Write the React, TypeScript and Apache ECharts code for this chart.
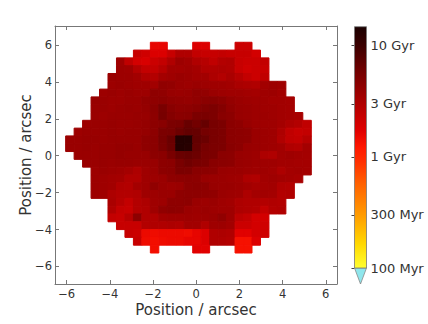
import React, { useEffect, useRef } from "react";
import * as echarts from "echarts";

// ---- axis ticks ----
const xTicks = [-6, -4, -2, 0, 2, 4, 6];
const yTicks = [-6, -4, -2, 0, 2, 4, 6];

// ---- colour bar (ages in Gyr) ----
const cbTickAges = [0.1, 0.3, 1, 3, 10];
const cbTickLabels = ["100 Myr", "300 Myr", "1 Gyr", "3 Gyr", "10 Gyr"];
const ageMin = 0.1;
const ageMax = 14.8;

// ---- spaxel grid (arcsec) ----
const cellX0 = -6.047; // left edge of column 0
const cellW = 0.3923;
const cellY0 = 6.148; // top edge of row 0
const cellH = 0.4229;

const N = null;
// first filled column of each row (row 0 = top)
const rowStart = [10, 8, 6, 6, 5, 5, 4, 3, 3, 3, 2, 1, 0, 0, 1, 2, 3, 3, 3, 3, 5, 5, 5, 6, 7, 8, 10];
// ages (Gyr) per row, from rowStart onwards
const rowAges: (number | null)[][] = [
  [1.6, 1.6, N, N, N, 1.8, 1.8, N, N, N, 2.2, 2.2],
  [2.3, 2.1, 1.8, 1.8, 2.3, 3.0, 3.0, 2.4, 2.3, 2.3, 2.4, 2.3, 2.3, 2.3, 2.0],
  [3.6, 2.5, 2.0, 1.9, 2.2, 2.4, 3.0, 3.7, 3.5, 3.0, 2.8, 2.5, 2.9, 3.0, 2.3, 2.2, 2.2, 2.4],
  [3.7, 3.6, 2.9, 2.4, 2.4, 2.8, 3.5, 3.5, 3.6, 3.4, 3.0, 3.0, 3.1, 3.0, 2.3, 2.1, 2.2, 2.3],
  [3.8, 3.7, 3.7, 3.5, 3.0, 2.9, 3.4, 3.6, 3.8, 3.7, 3.5, 3.5, 3.1, 2.9, 3.2, 2.8, 2.4, 2.2, 2.5],
  [3.7, 3.8, 3.7, 3.6, 3.6, 3.5, 4.2, 4.1, 3.8, 3.7, 3.8, 3.7, 3.6, 3.6, 3.5, 3.2, 3.1, 3.0, 3.5, 3.7, 3.6],
  [3.7, 3.8, 3.7, 3.8, 3.7, 3.7, 4.3, 4.2, 3.9, 3.8, 3.9, 4.2, 4.1, 3.8, 3.7, 3.6, 3.6, 3.5, 3.4, 3.6, 3.7, 3.5],
  [3.9, 3.8, 3.7, 3.7, 3.8, 3.8, 4.1, 4.3, 4.4, 4.2, 4.1, 4.0, 4.2, 4.5, 4.6, 4.4, 4.0, 3.8, 3.7, 3.6, 3.6, 3.5, 3.5, 3.4],
  [3.8, 3.8, 3.7, 3.8, 3.9, 3.8, 4.0, 4.5, 5.4, 4.6, 4.3, 4.4, 4.6, 5.0, 5.2, 4.8, 4.2, 3.9, 3.8, 3.7, 3.6, 3.6, 3.5, 3.4],
  [3.8, 3.7, 3.8, 3.8, 3.8, 3.9, 3.9, 4.4, 5.5, 4.8, 4.5, 4.6, 5.3, 5.4, 5.2, 4.6, 4.4, 3.9, 3.8, 3.7, 3.7, 3.6, 3.5, 3.4, 3.3],
  [3.7, 3.8, 3.8, 3.9, 3.8, 3.8, 3.9, 4.0, 4.4, 4.6, 5.3, 5.4, 6.5, 5.8, 6.6, 5.5, 5.3, 4.5, 4.3, 3.9, 3.7, 3.6, 3.6, 3.4, 3.1, 2.9, 2.5],
  [3.7, 3.8, 3.8, 3.8, 3.9, 3.8, 3.9, 3.9, 4.0, 4.4, 5.3, 5.4, 6.2, 6.8, 6.6, 5.7, 5.4, 5.2, 4.5, 4.4, 4.3, 3.8, 3.7, 3.6, 3.1, 2.5, 2.3, 2.4],
  [3.8, 3.8, 3.9, 3.9, 3.8, 3.9, 3.9, 3.9, 3.9, 4.3, 4.5, 5.4, 6.4, 13, 13, 6.8, 6.3, 5.4, 5.2, 4.5, 4.4, 4.3, 3.8, 3.7, 3.6, 3.0, 2.5, 2.4, 2.8],
  [3.8, 3.8, 3.9, 3.8, 3.9, 3.9, 4.0, 4.0, 3.9, 4.3, 4.5, 5.3, 6.2, 13, 12.5, 6.6, 5.6, 5.3, 5.2, 4.6, 4.4, 3.9, 3.8, 3.7, 3.6, 3.5, 3.0, 2.9, 3.4],
  [3.8, 3.8, 3.8, 3.9, 3.9, 4.0, 3.9, 3.9, 3.9, 4.4, 4.5, 5.4, 6.4, 6.6, 6.2, 5.4, 5.3, 4.5, 4.4, 3.9, 3.8, 3.7, 3.1, 3.0, 3.5, 3.6, 3.5, 3.4],
  [3.8, 3.8, 3.9, 3.8, 3.9, 3.9, 3.8, 3.8, 3.9, 4.4, 4.5, 5.4, 6.0, 5.5, 5.3, 4.6, 4.5, 4.4, 3.9, 3.8, 3.7, 3.6, 3.6, 3.5, 3.5, 3.4, 3.4],
  [3.7, 3.8, 3.7, 3.6, 3.4, 3.1, 3.6, 3.8, 4.4, 4.5, 5.3, 5.2, 4.6, 4.5, 4.4, 3.9, 3.8, 3.8, 3.7, 3.6, 3.6, 3.5, 3.1, 3.4, 3.5, 3.4],
  [3.7, 3.6, 3.5, 3.4, 3.0, 3.0, 3.6, 3.7, 3.8, 4.3, 4.4, 4.5, 4.4, 3.9, 3.8, 3.8, 3.7, 3.6, 3.1, 3.0, 3.5, 3.6, 3.5, 3.4, 3.3],
  [3.7, 3.6, 3.5, 3.0, 2.9, 3.4, 3.6, 4.2, 3.8, 3.7, 3.8, 4.4, 4.5, 4.4, 3.9, 3.8, 3.8, 3.7, 3.5, 3.3, 3.4, 3.5, 3.0, 2.9],
  [3.7, 3.6, 3.1, 2.9, 2.9, 3.0, 3.6, 3.7, 3.8, 3.8, 4.3, 4.4, 4.4, 4.3, 4.2, 3.8, 3.7, 3.6, 3.1, 3.4, 3.5, 3.4, 2.9, 3.0],
  [3.2, 2.8, 2.4, 2.9, 3.1, 3.6, 3.7, 4.3, 4.3, 4.4, 3.8, 3.7, 3.8, 3.6, 3.5, 3.1, 3.0, 3.0, 2.9, 3.0, 2.9],
  [3.0, 2.4, 2.3, 2.9, 3.0, 3.6, 4.2, 4.4, 4.3, 3.8, 3.7, 3.8, 3.7, 3.6, 3.6, 3.1, 3.0, 2.9, 2.4, 2.9, 3.0],
  [2.4, 2.3, 2.8, 4.4, 3.0, 3.0, 3.5, 3.6, 3.6, 3.7, 3.6, 3.7, 3.8, 4.2, 3.6, 2.6, 2.4, 2.0, 2.0],
  [2.3, 2.3, 2.3, 2.9, 3.0, 3.0, 3.1, 3.0, 3.5, 3.5, 3.0, 3.6, 3.7, 3.5, 2.2, 2.2, 2.0, 2.1],
  [2.3, 2.2, 1.5, 1.45, 1.5, 1.5, 1.5, 1.45, 1.6, 1.8, 3.0, 3.1, 3.0, 1.7, 1.7, 2.0, 2.1],
  [2.3, 1.45, 1.4, 1.45, 1.5, 1.5, 1.6, 1.6, 1.8, 3.0, 3.0, 2.9, 1.35, 1.35, 1.8],
  [1.4, N, N, N, N, 1.7, 1.7, N, N, N, 1.35, 1.35],
];

// colormap: fraction of log-age range -> colour
const cmapStops: [number, string][] = [
  [0.0, "#ffff30"],
  [0.1, "#ffd800"],
  [0.21, "#ffa000"],
  [0.35, "#ff6000"],
  [0.44, "#ff3000"],
  [0.5, "#ff1800"],
  [0.57, "#e00000"],
  [0.68, "#b00000"],
  [0.82, "#700000"],
  [0.92, "#3c0000"],
  [1.0, "#1a0000"],
];

const lgMin = Math.log10(ageMin);
const lgMax = Math.log10(ageMax);

function hexToRgb(h: string) {
  return [parseInt(h.slice(1, 3), 16), parseInt(h.slice(3, 5), 16), parseInt(h.slice(5, 7), 16)];
}
function colorFor(age: number) {
  let f = (Math.log10(age) - lgMin) / (lgMax - lgMin);
  f = Math.max(0, Math.min(1, f));
  for (let i = 1; i < cmapStops.length; i++) {
    const [f1, c1] = cmapStops[i];
    const [f0, c0] = cmapStops[i - 1];
    if (f <= f1) {
      const t = (f - f0) / (f1 - f0);
      const a = hexToRgb(c0);
      const b = hexToRgb(c1);
      const m = a.map((v, k) => Math.round(v + (b[k] - v) * t));
      return `rgb(${m[0]},${m[1]},${m[2]})`;
    }
  }
  return cmapStops[cmapStops.length - 1][1];
}

const FONT = "DejaVu Sans";
const TXT = "#333";
const AX = "#777";

function fmtNum(v: number) {
  return v < 0 ? "\u2212" + Math.abs(v) : String(v);
}

export default function App() {
  const ref = useRef<HTMLDivElement>(null);
  useEffect(() => {
    if (!ref.current) return;
    const chart = echarts.init(ref.current, undefined, { renderer: "svg" });

    const cells: number[][] = [];
    rowAges.forEach((row, r) => {
      row.forEach((a, i) => {
        if (a == null) return;
        const c = rowStart[r] + i;
        cells.push([cellX0 + (c + 0.5) * cellW, cellY0 - (r + 0.5) * cellH, a]);
      });
    });

    const cbLogTicks = cbTickAges.map((a) => Math.log10(a));

    const mainAxisCommon = {
      type: "value" as const,
      gridIndex: 0,
      splitLine: { show: false },
      axisLine: { show: true, onZero: false, lineStyle: { color: AX, width: 1 } },
    };

    chart.setOption({
      animation: false,
      grid: [
        { left: 55, right: 91, top: 26, bottom: 40 },
        { left: 354.5, width: 12, top: 26.7, bottom: 56 },
      ],
      xAxis: [
        {
          ...mainAxisCommon,
          position: "bottom",
          min: -6.54,
          max: 6.52,
          axisTick: { show: true, inside: true, length: 4, customValues: xTicks, lineStyle: { color: AX } },
          axisLabel: {
            customValues: xTicks,
            formatter: (v: number) => fmtNum(v),
            fontFamily: FONT,
            fontSize: 11.5,
            color: TXT,
            margin: 4,
          },
          name: "Position / arcsec",
          nameLocation: "middle",
          nameGap: 18,
          nameMoveOverlap: false,
          nameTextStyle: { fontFamily: FONT, fontSize: 15, color: TXT },
        },
        {
          ...mainAxisCommon,
          position: "top",
          min: -6.54,
          max: 6.52,
          axisTick: { show: true, inside: true, length: 4, customValues: xTicks, lineStyle: { color: AX } },
          axisLabel: { show: false },
        },
        { type: "value", gridIndex: 1, min: 0, max: 1, show: false },
      ],
      yAxis: [
        {
          ...mainAxisCommon,
          position: "left",
          min: -6.95,
          max: 7.03,
          axisTick: { show: true, inside: true, length: 4, customValues: yTicks, lineStyle: { color: AX } },
          axisLabel: {
            customValues: yTicks,
            formatter: (v: number) => fmtNum(v),
            fontFamily: FONT,
            fontSize: 11.5,
            color: TXT,
            margin: 3,
          },
          name: "Position / arcsec",
          nameLocation: "middle",
          nameGap: 22,
          nameMoveOverlap: false,
          nameTextStyle: { fontFamily: FONT, fontSize: 15, color: TXT },
        },
        {
          ...mainAxisCommon,
          position: "right",
          min: -6.95,
          max: 7.03,
          axisTick: { show: true, inside: true, length: 4, customValues: yTicks, lineStyle: { color: AX } },
          axisLabel: { show: false },
        },
        {
          type: "value",
          gridIndex: 1,
          position: "right",
          min: lgMin,
          max: lgMax,
          splitLine: { show: false },
          axisLine: { show: false },
          axisTick: { show: true, inside: true, length: 3, customValues: cbLogTicks, lineStyle: { color: "#444" } },
          axisLabel: {
            customValues: cbLogTicks,
            formatter: (v: number) => {
              const i = cbLogTicks.findIndex((t) => Math.abs(t - v) < 1e-6);
              return i >= 0 ? cbTickLabels[i] : "";
            },
            fontFamily: FONT,
            fontSize: 13,
            color: TXT,
            margin: 4,
          },
        },
      ],
      series: [
        {
          type: "custom",
          xAxisIndex: 0,
          yAxisIndex: 0,
          clip: true,
          data: cells,
          renderItem: (params: any, api: any) => {
            const x = api.value(0);
            const y = api.value(1);
            const age = api.value(2);
            const p1 = api.coord([x - cellW / 2, y + cellH / 2]);
            const p2 = api.coord([x + cellW / 2, y - cellH / 2]);
            const col = colorFor(age);
            return {
              type: "rect",
              shape: { x: p1[0], y: p1[1], width: p2[0] - p1[0], height: p2[1] - p1[1] },
              style: { fill: col, stroke: col, lineWidth: 1 },
            };
          },
        },
        {
          type: "custom",
          xAxisIndex: 2,
          yAxisIndex: 2,
          clip: false,
          data: [[0, lgMin, lgMax]],
          renderItem: (params: any, api: any) => {
            const pTop = api.coord([0, api.value(2)]);
            const pBot = api.coord([1, api.value(1)]);
            const x0 = pTop[0];
            const x1 = pBot[0];
            const yT = pTop[1];
            const yB = pBot[1];
            return {
              type: "group",
              children: [
                {
                  type: "polygon",
                  shape: { points: [[x0, yB], [x1, yB], [(x0 + x1) / 2, yB + 16]] },
                  style: { fill: "#8fe6ec", stroke: "#888", lineWidth: 0.8 },
                },
                {
                  type: "rect",
                  shape: { x: x0, y: yT, width: x1 - x0, height: yB - yT },
                  style: {
                    fill: new echarts.graphic.LinearGradient(
                      0, 1, 0, 0,
                      cmapStops.map(([o, c]) => ({ offset: o, color: c }))
                    ),
                    stroke: "#777",
                    lineWidth: 0.8,
                  },
                },
              ],
            };
          },
        },
      ],
    });
    return () => chart.dispose();
  }, []);
  return (
    <div
      ref={ref}
      style={{ position: "fixed", left: 0, top: 0, width: 428, height: 324, background: "#fff" }}
    />
  );
}
